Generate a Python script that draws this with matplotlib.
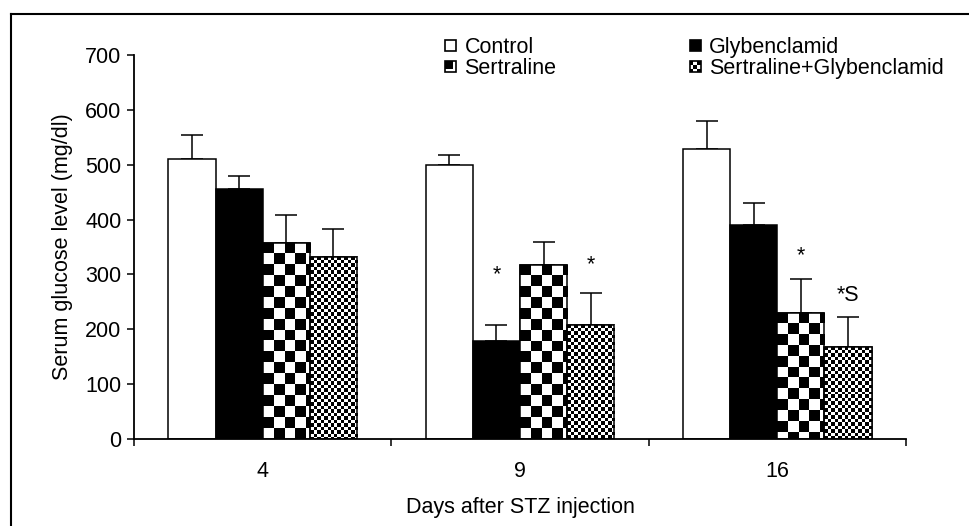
import numpy as np
import matplotlib
matplotlib.use('Agg')
import matplotlib.pyplot as plt
from matplotlib.lines import Line2D
from matplotlib.patches import Rectangle
from matplotlib.legend_handler import HandlerBase

plt.rcParams['font.family'] = ['Liberation Sans', 'DejaVu Sans']

days = ['4', '9', '16']
series = ['Control', 'Glybenclamid', 'Sertraline', 'Sertraline+Glybenclamid']
control = [510, 500, 528]
glyb = [455, 178, 390]
sert = [358, 318, 230]
sert_glyb = [332, 208, 168]
control_err = [44, 18, 51]
glyb_err = [25, 30, 40]
sert_err = [50, 42, 62]
sert_glyb_err = [50, 58, 54]

# significance marks: (series index, day index, label, y)
marks = [(1, 1, '*', 300), (3, 1, '*', 318), (2, 2, '*', 335), (3, 2, '*S', 262)]

W, H, DPI = 969, 526, 100
fig = plt.figure(figsize=(W / DPI, H / DPI), dpi=DPI)
ax = fig.add_axes([134 / W, 1 - 439 / H, (906 - 134) / W, (439 - 55) / H])

FS = 15.5
LFS = 15.5
width = 0.183
x = np.arange(len(days))
values = [control, glyb, sert, sert_glyb]
errors = [control_err, glyb_err, sert_err, sert_glyb_err]
# fill: None = plain, else checker cell size in pixels
fills = [('white', None), ('black', None), ('white', 11), ('white', 3.5)]

ax.set_xlim(-0.5, 2.5)
ax.set_ylim(0, 700)

px_per_x = (906 - 134) / 3.0
px_per_y = (439 - 55) / 700.0


def checker(w_px, h_px, cell):
    i = np.arange(h_px)[:, None]
    j = np.arange(w_px)[None, :]
    return ((np.floor(i / cell) + np.floor(j / cell)) % 2).astype(float)


for k, (vals, errs) in enumerate(zip(values, errors)):
    pos = x + (k - 1.5) * width
    color, cell = fills[k]
    bars = ax.bar(pos, vals, width, color=color, edgecolor='black', linewidth=1.1, zorder=2)
    if cell is not None:
        for b in bars:
            w_px = int(round(b.get_width() * px_per_x)) + 2
            h_px = int(round(b.get_height() * px_per_y)) + 2
            img = checker(w_px, h_px, cell)
            im = ax.imshow(img, cmap='gray', vmin=0, vmax=1, interpolation='nearest', aspect='auto',
                           extent=(b.get_x(), b.get_x() + b.get_width(), 0, b.get_height()),
                           origin='upper', zorder=2.5)
            im.set_clip_path(b)
        ax.bar(pos, vals, width, fill=False, edgecolor='black', linewidth=1.1, zorder=3)
    ax.errorbar(pos, vals, yerr=[np.zeros(len(errs)), errs], fmt='none', ecolor='black',
                elinewidth=1.1, capsize=8, capthick=1.1, zorder=1.5)

for s, d, label, y in marks:
    ax.text(x[d] + (s - 1.5) * width, y, label, ha='center', va='center', fontsize=FS)

ax.set_xlim(-0.5, 2.5)
ax.set_ylim(0, 700)
ax.set_yticks(np.arange(0, 701, 100))
ax.set_xticks(np.arange(-0.5, 2.6, 1))
ax.set_xticklabels([])
ax.set_xticks(x, minor=True)
ax.set_xticklabels(days, minor=True)
ax.tick_params(axis='x', which='major', direction='out', length=5, width=1.1)
ax.tick_params(axis='x', which='minor', length=0, pad=16, labelsize=FS)
ax.tick_params(axis='y', direction='out', length=5, width=1.1, labelsize=FS, pad=4)
for sp in ['top', 'right']:
    ax.spines[sp].set_visible(False)
for sp in ['left', 'bottom']:
    ax.spines[sp].set_linewidth(1.3)
ax.set_facecolor('none')

ax.set_ylabel('Serum glucose level (mg/dl)', fontsize=FS, labelpad=9)
ax.set_xlabel('Days after STZ injection', fontsize=FS, labelpad=11)


class HandlerSwatch(HandlerBase):
    def __init__(self, kind):
        super().__init__()
        self.kind = kind

    def create_artists(self, legend, orig_handle, xdescent, ydescent, width, height, fontsize, trans):
        s = min(width, height)
        x0, y0 = -xdescent, -ydescent + (height - s) / 2
        arts = []
        if self.kind == 'open':
            arts.append(Rectangle((x0, y0), s, s, facecolor='white', edgecolor='black', lw=1.2))
        elif self.kind == 'solid':
            arts.append(Rectangle((x0, y0), s, s, facecolor='black', edgecolor='black', lw=1.2))
        elif self.kind == 'big':
            arts.append(Rectangle((x0, y0), s, s, facecolor='white', edgecolor='black', lw=1.2))
            arts.append(Rectangle((x0, y0 + s * 0.25), s * 0.75, s * 0.75, facecolor='black', lw=0))
        else:
            arts.append(Rectangle((x0, y0), s, s, facecolor='white', edgecolor='black', lw=1.2))
            n = 3
            c = s / n
            for i in range(n):
                for j in range(n):
                    if (i + j) % 2 == 0:
                        arts.append(Rectangle((x0 + i * c, y0 + j * c), c, c, facecolor='black', lw=0))
        for a in arts:
            a.set_transform(trans)
        return arts


handles = [Rectangle((0, 0), 1, 1) for _ in series]
kinds = ['open', 'solid', 'big', 'fine']
order = [0, 2, 1, 3]
leg = ax.legend([handles[i] for i in order], [series[i] for i in order], ncol=2,
                handler_map={handles[i]: HandlerSwatch(kinds[i]) for i in range(4)},
                loc='upper left', bbox_to_anchor=(445 / W, 1 - 37 / H), bbox_transform=fig.transFigure,
                frameon=False, fontsize=LFS, handlelength=0.5, handleheight=0.5, handletextpad=0.4,
                columnspacing=6.2, labelspacing=0.02, borderpad=0, borderaxespad=0)

# outer frame (top and left only visible)
fig.add_artist(Line2D([11 / W, 11 / W], [0, 1 - 14 / H], color='black', lw=1.5, transform=fig.transFigure))
fig.add_artist(Line2D([11 / W, 1], [1 - 14 / H, 1 - 14 / H], color='black', lw=1.5, transform=fig.transFigure))

fig.savefig('out.png', dpi=DPI)
